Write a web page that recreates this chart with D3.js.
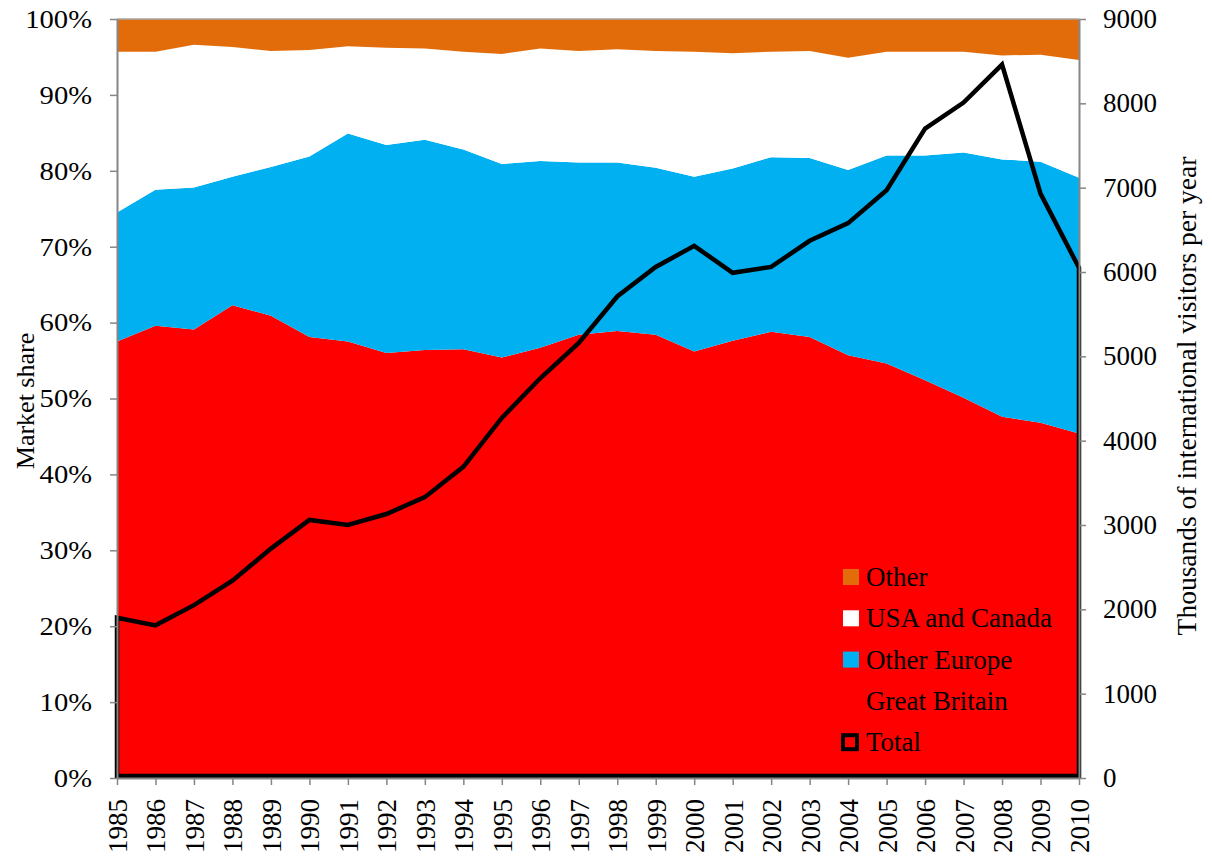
<!DOCTYPE html>
<html>
<head>
<meta charset="utf-8">
<script src="https://d3js.org/d3.v7.min.js"></script>
<style>
  body { margin: 0; background: #fff; }
  text { font-family: "Liberation Serif", "Times New Roman", serif; fill: #000; }
</style>
</head>
<body>
<svg width="1212" height="863"></svg>
<script>
var years = [1985, 1986, 1987, 1988, 1989, 1990, 1991, 1992, 1993, 1994, 1995, 1996, 1997,
             1998, 1999, 2000, 2001, 2002, 2003, 2004, 2005, 2006, 2007, 2008, 2009, 2010];

// market shares in percent
var greatBritain = [57.5, 59.6, 59.1, 62.3, 60.9, 58.1, 57.5, 56.0, 56.4, 56.5, 55.4, 56.7, 58.4,
                    58.9, 58.4, 56.2, 57.6, 58.8, 58.1, 55.7, 54.6, 52.4, 50.1, 47.6, 46.8, 45.4];
var otherEurope  = [17.0, 17.9, 18.7, 16.9, 19.6, 23.8, 27.4, 27.4, 27.7, 26.3, 25.5, 24.6, 22.7,
                    22.2, 22.0, 23.0, 22.7, 23.0, 23.6, 24.4, 27.4, 29.6, 32.3, 33.9, 34.4, 33.7];
var usaCanada    = [21.2, 18.2, 18.8, 17.1, 15.3, 14.0, 11.5, 12.8, 12.0, 12.9, 14.5, 14.8, 14.7,
                    14.9, 15.4, 16.5, 15.2, 13.9, 14.1, 14.8, 13.7, 13.7, 13.3, 13.7, 14.1, 15.5];
var other        = [4.3, 4.3, 3.4, 3.7, 4.2, 4.1, 3.6, 3.8, 3.9, 4.3, 4.6, 3.9, 4.2,
                    4.0, 4.2, 4.3, 4.5, 4.3, 4.2, 5.1, 4.3, 4.3, 4.3, 4.8, 4.7, 5.4];

// thousands of international visitors per year
var total = [1900, 1810, 2050, 2340, 2720, 3060, 3000, 3130, 3330, 3690, 4270, 4740, 5160,
             5710, 6060, 6310, 5990, 6060, 6370, 6580, 6970, 7700, 8010, 8460, 6930, 6050];

var pctTicks = [0, 10, 20, 30, 40, 50, 60, 70, 80, 90, 100];
var totTicks = [0, 1000, 2000, 3000, 4000, 5000, 6000, 7000, 8000, 9000];

var seriesKeys = ["gb", "oe", "usa", "other"];
var seriesColors = {gb: "#ff0000", oe: "#00b0f0", usa: "#ffffff", other: "#e36c0a"};

var rows = years.map(function(y, i) {
  return {year: y, gb: greatBritain[i], oe: otherEurope[i], usa: usaCanada[i], other: other[i], total: total[i]};
});

var svg = d3.select("svg");
var plotLeft = 117, plotRight = 1079, plotTop = 19, plotBottom = 778;

var x = d3.scalePoint().domain(years).range([plotLeft, plotRight]);
var yPct = d3.scaleLinear().domain([0, 100]).range([plotBottom, plotTop]);
var yTot = d3.scaleLinear().domain([0, 9000]).range([plotBottom, plotTop]);

var stacked = d3.stack().keys(seriesKeys)(rows);

var area = d3.area()
  .x(function(d) { return x(d.data.year); })
  .y0(function(d) { return yPct(d[0]); })
  .y1(function(d) { return yPct(Math.min(100, d[1])); });

svg.append("g").selectAll("path")
  .data(stacked)
  .enter().append("path")
  .attr("fill", function(d) { return seriesColors[d.key]; })
  .attr("d", area);

// total drawn as an unfilled area (outline goes down to zero at both ends)
var totArea = d3.area()
  .x(function(d) { return x(d.year); })
  .y0(yTot(0) - 2)
  .y1(function(d) { return yTot(d.total); });

svg.append("path")
  .attr("fill", "none")
  .attr("stroke", "#000")
  .attr("stroke-width", 4.5)
  .attr("stroke-linejoin", "miter")
  .attr("d", totArea(rows));

// plot border (top)
svg.append("line")
  .attr("x1", plotLeft).attr("x2", plotRight).attr("y1", plotTop).attr("y2", plotTop)
  .attr("stroke", "#a6a6a6").attr("stroke-width", 1.5);

function styleAxis(g) {
  g.select(".domain").attr("stroke", "#868686").attr("stroke-width", 2);
  g.selectAll(".tick line").attr("stroke", "#868686").attr("stroke-width", 1.5);
  g.selectAll("text").attr("font-family", "Liberation Serif").attr("font-size", 27).attr("fill", "#000");
}

var gL = svg.append("g")
  .attr("transform", "translate(" + plotLeft + ",0)")
  .call(d3.axisLeft(yPct).tickValues(pctTicks).tickSize(7).tickSizeOuter(0).tickPadding(18)
        .tickFormat(function(d) { return d + "%"; }));
styleAxis(gL);
// the left labels are drawn a little wider in the original
gL.selectAll(".tick text")
  .attr("x", 0)
  .attr("font-size", 26)
  .attr("transform", "translate(-25,0) scale(1.1,1)");

var gR = svg.append("g")
  .attr("transform", "translate(" + plotRight + ",0)")
  .call(d3.axisRight(yTot).tickValues(totTicks).tickSize(7).tickSizeOuter(0).tickPadding(17)
        .tickFormat(d3.format("d")));
styleAxis(gR);

var gB = svg.append("g")
  .attr("transform", "translate(0," + plotBottom + ")")
  .call(d3.axisBottom(x).tickSize(7).tickSizeOuter(0).tickPadding(0));
styleAxis(gB);
gB.selectAll("text")
  .attr("transform", "rotate(-90)")
  .attr("text-anchor", "end")
  .attr("x", -21)
  .attr("y", 0)
  .attr("dy", "0.35em");

// axis titles
svg.append("text")
  .attr("transform", "translate(34,401) rotate(-90)")
  .attr("text-anchor", "middle")
  .attr("font-size", 26)
  .text("Market share");

svg.append("text")
  .attr("transform", "translate(1196,396) rotate(-90)")
  .attr("text-anchor", "middle")
  .attr("font-size", 27.5)
  .text("Thousands of international visitors per year");

// legend
var legendItems = [
  {label: "Other", color: seriesColors.other},
  {label: "USA and Canada", color: seriesColors.usa},
  {label: "Other Europe", color: seriesColors.oe},
  {label: "Great Britain", color: seriesColors.gb},
  {label: "Total", color: null}
];
var lg = svg.append("g").attr("transform", "translate(843,577)");
lg.selectAll("g").data(legendItems).enter().append("g")
  .attr("transform", function(d, i) { return "translate(0," + (i * 41.3) + ")"; })
  .each(function(d) {
    var g = d3.select(this);
    if (d.color) {
      g.append("rect").attr("x", 0).attr("y", -8).attr("width", 16).attr("height", 16).attr("fill", d.color);
    } else {
      g.append("rect").attr("x", 0).attr("y", -7).attr("width", 14).attr("height", 14)
        .attr("fill", seriesColors.gb).attr("stroke", "#000").attr("stroke-width", 4);
    }
    g.append("text").attr("x", 23).attr("dy", "0.33em").attr("font-size", 27).text(d.label);
  });
</script>
</body>
</html>
